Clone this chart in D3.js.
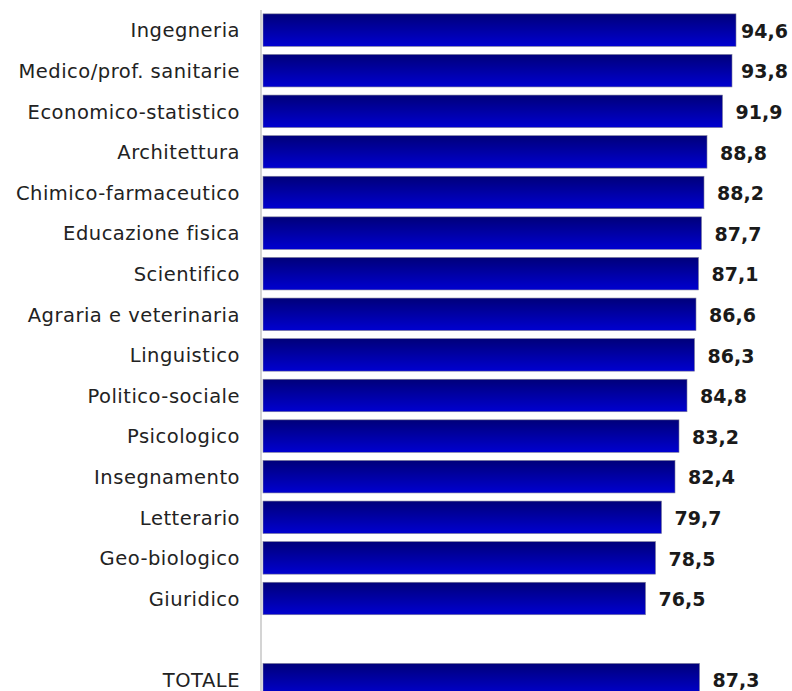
<!DOCTYPE html>
<html>
<head>
<meta charset="utf-8">
<script src="https://cdn.jsdelivr.net/npm/d3@7"></script>
<style>
  body { margin: 0; background: #fff; }
  .cat { font-family: "DejaVu Sans", sans-serif; font-size: 19.5px; letter-spacing: 0.5px; fill: #222; }
  .val { font-family: "DejaVu Sans", sans-serif; font-size: 19px; font-weight: bold; fill: #1a1a1a; }
</style>
</head>
<body>
<div id="plot"></div>
<script>
const FRAME_WIDTH = 792;
const FRAME_HEIGHT = 691;

// categories top to bottom, "" is the empty slot before the total
const categories = ["Ingegneria", "Medico/prof. sanitarie", "Economico-statistico", "Architettura",
  "Chimico-farmaceutico", "Educazione fisica", "Scientifico", "Agraria e veterinaria",
  "Linguistico", "Politico-sociale", "Psicologico", "Insegnamento", "Letterario",
  "Geo-biologico", "Giuridico", "", "TOTALE"];
const values = [94.6, 93.8, 91.9, 88.8, 88.2, 87.7, 87.1, 86.6, 86.3, 84.8, 83.2, 82.4, 79.7, 78.5, 76.5, null, 87.3];

const FRAME1 = d3.select("#plot")
  .append("svg")
    .attr("width", FRAME_WIDTH)
    .attr("height", FRAME_HEIGHT);

// bar gradient, dark navy on top to blue at bottom
const grad = FRAME1.append("defs").append("linearGradient")
    .attr("id", "barGrad")
    .attr("x1", 0).attr("y1", 0).attr("x2", 0).attr("y2", 1);
grad.append("stop").attr("offset", "0%").attr("stop-color", "#00007a");
grad.append("stop").attr("offset", "100%").attr("stop-color", "#0000d0");

const x = d3.scaleLinear().domain([0, 100]).range([263, 763]);
const y = d3.scaleBand()
    .domain(d3.range(categories.length))
    .range([9.8, 700])
    .paddingInner(0.2)
    .paddingOuter(0.1);

// vertical axis line
FRAME1.append("line")
    .attr("x1", 261).attr("x2", 261)
    .attr("y1", 10).attr("y2", FRAME_HEIGHT)
    .attr("stroke", "#d4d4d4")
    .attr("stroke-width", 2);

const data = categories.map((c, i) => ({ cat: c, val: values[i], i: i }))
  .filter(d => d.val !== null);

FRAME1.selectAll(".bar")
  .data(data)
  .enter().append("rect")
    .attr("class", "bar")
    .attr("x", x(0))
    .attr("y", d => y(d.i))
    .attr("width", d => x(d.val) - x(0))
    .attr("height", y.bandwidth())
    .attr("fill", "url(#barGrad)")
    .attr("stroke", "#7a7a9a")
    .attr("stroke-width", 0.6);

FRAME1.selectAll(".cat")
  .data(data)
  .enter().append("text")
    .attr("class", "cat")
    .attr("x", 240)
    .attr("y", d => y(d.i) + y.bandwidth() / 2)
    .attr("dy", "0.37em")
    .attr("text-anchor", "end")
    .text(d => d.cat);

// value labels sit right of the bar, but never past the right margin
FRAME1.selectAll(".val")
  .data(data)
  .enter().append("text")
    .attr("class", "val")
    .attr("x", d => Math.min(x(d.val) + 13, 741))
    .attr("y", d => y(d.i) + y.bandwidth() / 2)
    .attr("dy", "0.4em")
    .text(d => d.val.toFixed(1).replace(".", ","));
</script>
</body>
</html>
